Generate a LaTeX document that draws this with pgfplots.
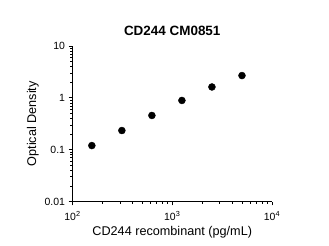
\documentclass[border=0pt]{standalone}
\usepackage{fontspec}
\setmainfont{Liberation Sans}
\usepackage{pgfplots}
\pgfplotsset{compat=1.18}
\begin{document}
\begin{tikzpicture}[x=1bp,y=1bp]
\path (0,0) rectangle (329,246);
\begin{axis}[
  at={(72.5bp,44.5bp)}, anchor=south west,
  scale only axis, width=199.5bp, height=155.5bp,
  xmode=log, ymode=log,
  xmin=100, xmax=10000, ymin=0.01, ymax=10,
  axis lines*=left,
  axis line style={line width=0.9pt},
  tick style={black, line width=0.7pt},
  major tick length=4bp, minor tick length=2.5bp,
  tick align=outside,
  xtick={100,1000,10000},
  xticklabels={10\textsuperscript{2},10\textsuperscript{3},10\textsuperscript{4}},
  ytick={0.01,0.1,1,10},
  yticklabels={0.01,0.1,1,10},
  minor xtick={200,300,400,500,600,700,800,900,2000,3000,4000,5000,6000,7000,8000,9000},
  minor ytick={0.02,0.03,0.04,0.05,0.06,0.07,0.08,0.09,0.2,0.3,0.4,0.5,0.6,0.7,0.8,0.9,2,3,4,5,6,7,8,9},
  tick label style={font=\fontsize{10.5}{12}\selectfont},
  xticklabel style={yshift=-2bp},
  xlabel={CD244 recombinant (pg/mL)},
  ylabel={Optical Density},
  label style={font=\fontsize{12.7}{15}\selectfont},
  xlabel style={yshift=1bp},
  ylabel style={yshift=-1bp},
  title={\textbf{CD244 CM0851}},
  title style={font=\fontsize{13.5}{16}\selectfont, yshift=1bp},
  clip=false,
]
\addplot[only marks, mark=*, mark size=3.5bp, black] coordinates {
  (156.25,0.12) (312.5,0.234) (625,0.457) (1250,0.89) (2500,1.62) (5000,2.69)
};
\end{axis}
\end{tikzpicture}
\end{document}
